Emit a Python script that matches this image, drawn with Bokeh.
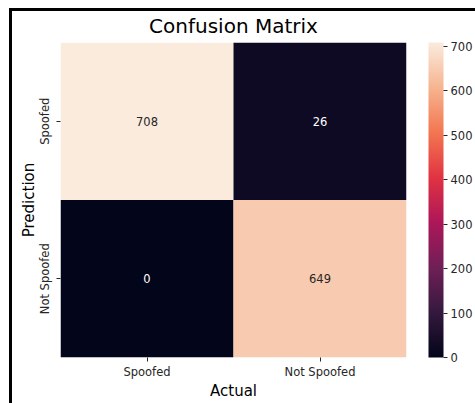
import numpy as np
from bokeh.plotting import figure
from bokeh.models import (ColumnDataSource, LinearColorMapper, ColorBar,
                          FixedTicker, FactorRange, InlineStyleSheet)
from bokeh.core.properties import value
from bokeh.embed import file_html
from bokeh.resources import INLINE

# Confusion matrix data
actual = ["Spoofed", "Not Spoofed"]          # columns (x)
prediction = ["Spoofed", "Not Spoofed"]      # rows (y), top to bottom
counts = [[708, 26],
          [0, 649]]
cbar_ticks = [0, 100, 200, 300, 400, 500, 600, 700]

FONT = "DejaVu Sans"
TEXT = "#262626"

# "rocket"-like sequential palette
stops = [(0.0, (3, 5, 26)), (1/7, (53, 25, 62)), (2/7, (112, 31, 87)),
         (3/7, (173, 23, 89)), (4/7, (225, 51, 66)), (5/7, (243, 118, 81)),
         (6/7, (246, 180, 143)), (1.0, (250, 235, 221))]
pos = np.array([s[0] for s in stops])
rgb = np.array([s[1] for s in stops], dtype=float)
grid = np.linspace(0, 1, 256)
palette = ["#%02x%02x%02x" % tuple(int(round(np.interp(g, pos, rgb[:, k]))) for k in range(3))
           for g in grid]

vmin = 0
vmax = max(max(r) for r in counts)
mapper = LinearColorMapper(palette=palette, low=vmin, high=vmax)

xs, ys, vals, labels, tcolors = [], [], [], [], []
for i, pred in enumerate(prediction):
    for j, act in enumerate(actual):
        v = counts[i][j]
        xs.append(act)
        ys.append(pred)
        vals.append(v)
        labels.append(str(v))
        tcolors.append(TEXT if (v - vmin) / (vmax - vmin) > 0.5 else "white")
src = ColumnDataSource(dict(x=xs, y=ys, v=vals, label=labels, tc=tcolors))

# black frame along the top and left edges, drawn over the canvas
frame_css = InlineStyleSheet(css="""
:host::after {
  content: "";
  position: absolute;
  left: 9px;
  top: 8px;
  width: 466px;
  height: 395px;
  border-left: 3px solid #000;
  border-top: 3px solid #000;
  box-sizing: border-box;
  pointer-events: none;
}
""")

p = figure(frame_width=346, frame_height=315, output_backend="svg",
           toolbar_location=None,
           x_range=FactorRange(factors=actual, range_padding=0),
           y_range=FactorRange(factors=prediction[::-1], range_padding=0),
           min_border_left=60, min_border_top=42, min_border_bottom=46,
           min_border_right=69, title="Confusion Matrix",
           stylesheets=[frame_css])

p.rect(x="x", y="y", width=1, height=1, source=src,
       fill_color={"field": "v", "transform": mapper}, line_color=None)
p.text(x="x", y="y", text="label", source=src, text_color="tc",
       text_align="center", text_baseline="middle",
       text_font=value(FONT), text_font_size="11.5px")

p.title.text_font = FONT
p.title.text_font_size = "20px"
p.title.text_font_style = "normal"
p.title.text_color = "black"
p.title.align = "center"

p.outline_line_color = None
p.grid.grid_line_color = None
for ax in (p.xaxis, p.yaxis):
    ax.axis_line_color = None
    ax.major_tick_in = 0
    ax.major_tick_out = 4
    ax.major_tick_line_color = TEXT
    ax.minor_tick_line_color = None
    ax.major_label_text_font = FONT
    ax.major_label_text_font_size = "11.5px"
    ax.major_label_text_color = TEXT
    ax.axis_label_text_font = FONT
    ax.axis_label_text_font_size = "15px"
    ax.axis_label_text_font_style = "normal"
    ax.axis_label_text_color = "black"
p.xaxis.axis_label = "Actual"
p.yaxis.axis_label = "Prediction"
p.yaxis.major_label_orientation = "vertical"
p.xaxis.major_label_standoff = 3
p.xaxis.axis_label_standoff = 0
p.yaxis.axis_label_standoff = -3

cb = ColorBar(color_mapper=mapper, width=15, height=315, padding=0, margin=0,
              location=(22, 0),
              ticker=FixedTicker(ticks=cbar_ticks), major_tick_in=0,
              major_tick_out=4, major_tick_line_color=TEXT,
              major_label_text_font=FONT, major_label_text_font_size="11.5px",
              major_label_text_color=TEXT, label_standoff=3,
              border_line_color=None, background_fill_color=None,
              bar_line_color=None)
p.add_layout(cb, "right")

open("out.html", "w").write(file_html(p, INLINE))
